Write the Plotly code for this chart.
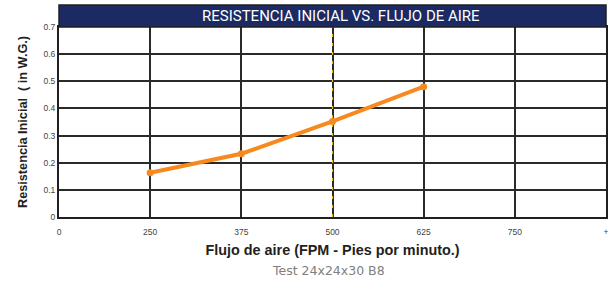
import plotly.graph_objects as go

tick_labels = ["0", "250", "375", "500", "625", "750", "+"]
flow_labels = ["250", "375", "500", "625"]
resistance = [0.163, 0.233, 0.352, 0.48]
y_ticks = [0, 0.1, 0.2, 0.3, 0.4, 0.5, 0.6, 0.7]

x_pos = [tick_labels.index(v) for v in flow_labels]

fig = go.Figure()
fig.add_trace(go.Scatter(
    x=x_pos, y=resistance, mode="lines+markers",
    line=dict(color="#f7891f", width=4),
    marker=dict(color="#f7891f", size=7),
    showlegend=False, hoverinfo="skip",
))

fig.update_layout(
    width=608, height=281,
    margin=dict(l=59, r=2, t=27, b=64),
    paper_bgcolor="white", plot_bgcolor="white",
    font=dict(family="Liberation Sans, Arial, sans-serif", color="#444"),
    xaxis=dict(
        range=[0, 6], tickmode="array", tickvals=list(range(7)), ticktext=tick_labels,
        showgrid=True, gridcolor="#2a2a2a", gridwidth=1.5,
        showline=True, linecolor="#231f20", linewidth=2, mirror=True,
        zeroline=False, tickfont=dict(size=8.5, color="#444"), ticks="", ticklen=0,
        ticklabeloverflow="allow", automargin=False, ticklabelstandoff=6,
        title=dict(text="<b>Flujo de aire (FPM - Pies por minuto.)</b>",
                   font=dict(size=14.4, color="#231f20"), standoff=9),
    ),
    yaxis=dict(
        range=[0, 0.7], tickmode="array", tickvals=y_ticks,
        ticktext=["0", "0.1", "0.2", "0.3", "0.4", "0.5", "0.6", "0.7"],
        showgrid=True, gridcolor="#2a2a2a", gridwidth=1.5,
        showline=True, linecolor="#231f20", linewidth=2, mirror=True,
        zeroline=False, tickfont=dict(size=8.5, color="#444"), ticks="", ticklen=0,
        title=dict(text="<b>Resistencia Inicial  ( in W.G.)</b>",
                   font=dict(size=12.7, color="#231f20"), standoff=13),
        automargin=False,
    ),
)

# dashed yellow overlay on the 500 gridline
fig.add_shape(type="line", xref="x", yref="paper", x0=3, x1=3, y0=0, y1=1,
              line=dict(color="#e8b820", width=1.2, dash="3px,6px"), layer="above")

# header band
fig.add_shape(type="rect", xref="paper", yref="paper", x0=0, x1=1,
              y0=1, y1=1 + 22 / 190, fillcolor="#1b2a63",
              line=dict(color="#231f20", width=1.5), layer="above")
fig.add_annotation(xref="paper", yref="paper", x=0.516, y=1 + 11 / 190,
                   text="RESISTENCIA INICIAL VS. FLUJO DE AIRE", showarrow=False,
                   font=dict(family="Roboto, sans-serif", size=15, color="white"),
                   xanchor="center", yanchor="middle")

fig.add_annotation(xref="paper", yref="paper", x=0.492, y=-53 / 190,
                   text="Test 24x24x30 B8", showarrow=False,
                   font=dict(family="DejaVu Sans, sans-serif", size=12.5, color="#808080"),
                   xanchor="center", yanchor="middle")

fig.write_html("out.html", config={"displayModeBar": False},
               post_script="document.body.style.margin='0';document.body.style.padding='0';")
